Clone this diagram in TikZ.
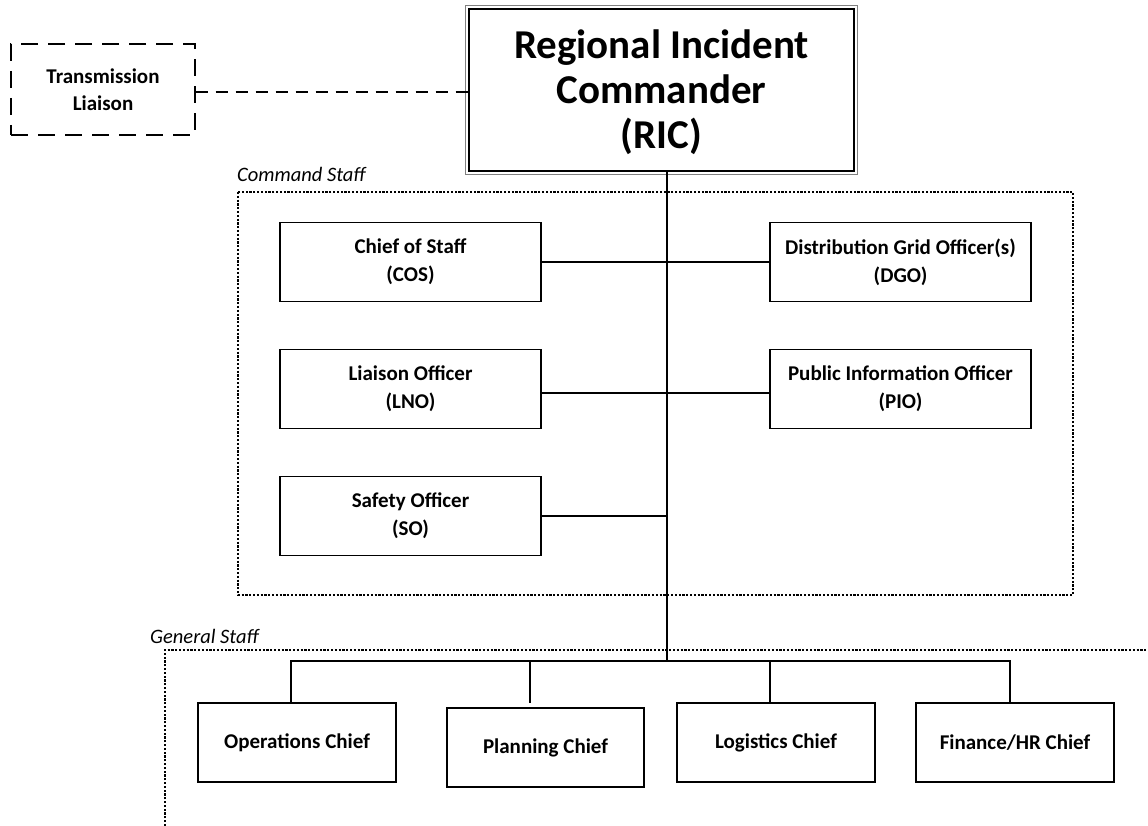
\documentclass[tikz,border=0pt]{standalone}
\usepackage{fontspec}
\setmainfont{Carlito}
\usetikzlibrary{calc}
\begin{document}
\begin{tikzpicture}[x=1pt,y=-1pt,
  box/.style={draw, line width=1.4pt, align=center, font=\fontsize{21}{28}\selectfont\bfseries, inner sep=0pt},
  conn/.style={line width=1.3pt},
  grp/.style={line width=1.2pt, dash pattern=on 2.2pt off 1.6pt},
  grplabel/.style={font=\fontsize{20.5}{22}\selectfont\itshape, anchor=base west, inner sep=0pt}
]
\useasboundingbox (0,0) rectangle (1148,826);

% groups
\draw[grp] (238,192) rectangle (1073,595);
\node[grplabel] (cmdlbl) at (237,182) {Command Staff};
\draw[grp] (165,826) -- (165,650) -- (1148,650);
\node[grplabel] (genlbl) at (150,643) {General Staff};

% RIC
\node[box, line width=2.8pt, minimum width=385pt, minimum height=162pt,
      font=\fontsize{41}{45}\selectfont\bfseries] (ric) at (661.5,90) {};
\node[align=center, font=\fontsize{41}{45}\selectfont\bfseries, inner sep=0pt] (rictext) at (661.5,92) {Regional Incident\\Commander\\(RIC)};
\draw[gray, line width=0.8pt] ($(ric.north west)+(-2.2,-2.2)$) rectangle ($(ric.south east)+(2.2,2.2)$);

% Transmission liaison
\node[box, dash pattern=on 17pt off 10pt, minimum width=184pt, minimum height=91pt,
      font=\fontsize{21}{27}\selectfont\bfseries] (tl) at (103,89.5) {Transmission\\Liaison};
\draw[conn, dash pattern=on 12pt off 8pt] (tl.east |- 0,92) -- (ric.west |- 0,92);

% command staff
\node[box, minimum width=261pt, minimum height=79pt] (cos) at (410.5,262) {Chief of Staff\\(COS)};
\node[box, minimum width=261pt, minimum height=79pt] (dgo) at (900.5,262) {Distribution Grid Officer(s)\\(DGO)};
\node[box, minimum width=261pt, minimum height=79pt] (lno) at (410.5,389) {Liaison Officer\\(LNO)};
\node[box, minimum width=261pt, minimum height=79pt] (pio) at (900.5,389) {Public Information Officer\\(PIO)};
\node[box, minimum width=261pt, minimum height=79pt] (so) at (410.5,516) {Safety Officer\\(SO)};

\coordinate (spine) at (667,661);
\draw[conn] (ric.south -| spine) -- (spine);
\draw[conn] (cos.east) -- (dgo.west);
\draw[conn] (lno.east |- 0,393) -- (pio.west |- 0,393);
\draw[conn] (so.east) -- (so.east -| spine);

% general staff
\node[box, minimum width=198pt, minimum height=79pt] (ops) at (297,742.5) {Operations Chief};
\node[box, minimum width=197pt, minimum height=79pt] (plan) at (545.5,747.5) {Planning Chief};
\node[box, minimum width=198pt, minimum height=79pt] (log) at (776,742.5) {Logistics Chief};
\node[box, minimum width=198pt, minimum height=79pt] (fin) at (1015,742.5) {Finance/HR Chief};

\draw[conn] (291,703) -- (291,661) -- (1010,661) -- (1010,703);
\draw[conn] (530,661) -- (530,703);
\draw[conn] (770,661) -- (770,703);
\end{tikzpicture}
\end{document}
